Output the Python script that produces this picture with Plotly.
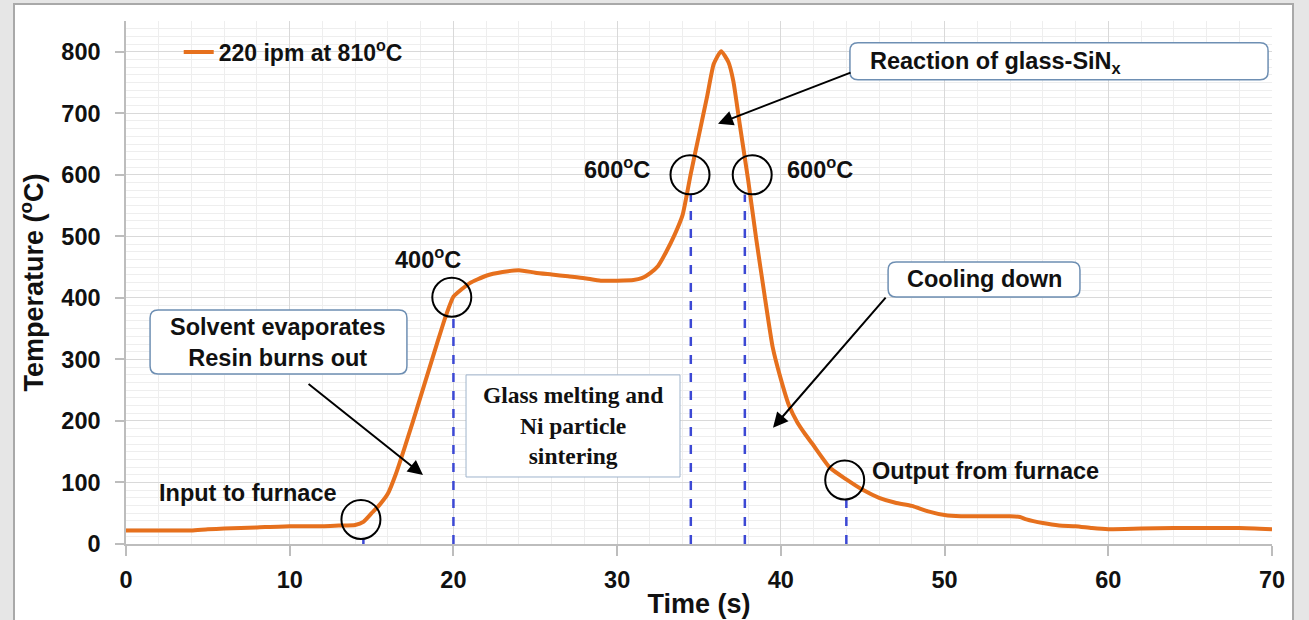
import plotly.graph_objects as go

# Furnace temperature profile, belt speed 220 ipm, peak set point 810 C
time_s = [0, 2, 4, 5, 6, 8, 10, 12, 13, 14, 14.5, 15, 15.5, 16, 16.5, 17, 17.5, 18,
          18.5, 19, 19.5, 20, 20.5, 21, 22, 23, 24, 25, 26, 27, 28, 29, 30, 31, 31.5,
          32, 32.5, 33, 33.5, 34, 34.5, 35, 35.5, 35.9, 36.35, 36.8, 37.1, 37.5, 38, 38.5,
          39, 39.5, 40, 40.5, 41, 41.5, 42, 43, 44, 45, 46, 47, 48, 49, 50, 51, 52,
          53, 54, 54.6, 55, 56, 57, 58, 59, 60, 62, 64, 66, 68, 70]
temp_c = [22, 22, 22, 24, 25, 27, 29, 29, 30, 31, 36, 50, 64, 82, 115, 155, 197, 240,
          283, 326, 368, 402, 414, 424, 436, 442, 445, 441, 438, 435, 432, 428, 428, 429, 432,
          440, 452, 475, 502, 535, 602, 665, 728, 780, 801, 783, 752, 680, 592, 495,
          405, 320, 268, 225, 198, 178, 160, 124, 105, 88, 75, 67, 62, 53, 47, 45, 45,
          45, 45, 44, 40, 34, 30, 29, 26, 24, 25, 26, 26, 26, 24]

series_name = "220 ipm at 810<sup>o</sup>C"

# Process checkpoints: circled points on the curve and dashed guides down to the axis
circle_t = [14.35, 19.9, 34.45, 38.25, 43.9]
circle_T = [40, 401, 600, 600, 104]
guide_t = [14.5, 20.0, 34.5, 37.8, 44.0]
guide_top = [8, 368, 568, 568, 72]

x_ticks = [0, 10, 20, 30, 40, 50, 60, 70]
y_ticks = [0, 100, 200, 300, 400, 500, 600, 700, 800]

ORANGE = "#E6701D"
BLUE = "#3C48D4"
BOX_EDGE = "#6E8FB3"
INK = "#111111"
SANS = "Liberation Sans, Arial"
SERIF = "Liberation Serif, Times New Roman"

W, H = 1309, 620
ML, MR, MT, MB = 126, 37, 21, 76
X_RANGE = [0, 70]
Y_RANGE = [0, 850]
px_x = (W - ML - MR) / (X_RANGE[1] - X_RANGE[0])
px_y = (H - MT - MB) / (Y_RANGE[1] - Y_RANGE[0])

fig = go.Figure()

for gt, top in zip(guide_t, guide_top):
    fig.add_trace(go.Scatter(x=[gt, gt], y=[0, top], mode="lines",
                             line=dict(color=BLUE, width=2.5, dash="dash"),
                             showlegend=False, hoverinfo="skip"))

fig.add_trace(go.Scatter(x=time_s, y=temp_c, mode="lines", name=series_name,
                         line=dict(color=ORANGE, width=4, shape="spline", smoothing=0.5)))

shapes = []


def to_paper_x(px):
    return (px - ML) / (W - ML - MR)


def to_paper_y(py):
    return (H - MB - py) / (H - MT - MB)


# page frame
shapes.append(dict(type="rect", xref="paper", yref="paper", layer="below",
                   x0=to_paper_x(14), x1=to_paper_x(1293),
                   y0=to_paper_y(640), y1=to_paper_y(4),
                   fillcolor="white", line=dict(color="#a9a9a9", width=2)))


def round_box(x0, x1, y0, y1, r_px=8, color=BOX_EDGE, width=1.5):
    rx, ry = r_px / px_x, r_px / px_y
    path = (f"M{x0 + rx},{y0} L{x1 - rx},{y0} Q{x1},{y0} {x1},{y0 + ry} "
            f"L{x1},{y1 - ry} Q{x1},{y1} {x1 - rx},{y1} L{x0 + rx},{y1} "
            f"Q{x0},{y1} {x0},{y1 - ry} L{x0},{y0 + ry} Q{x0},{y0} {x0 + rx},{y0} Z")
    return dict(type="path", xref="x", yref="y", path=path, layer="above",
                fillcolor="white", line=dict(color=color, width=width))


shapes.append(round_box(1.47, 17.16, 276.4, 380.5))
shapes.append(round_box(44.22, 69.76, 754.5, 814.6))
shapes.append(round_box(46.55, 58.27, 401.6, 458.5))
shapes.append(dict(type="rect", xref="x", yref="y", layer="above",
                   x0=20.77, x1=33.84, y0=108.9, y1=274.8,
                   fillcolor="white", line=dict(color="#9fb4cc", width=1)))

for ct, cT in zip(circle_t, circle_T):
    shapes.append(dict(type="circle", xref="x", yref="y", xsizemode="pixel",
                       ysizemode="pixel", xanchor=ct, yanchor=cT,
                       x0=-19.5, x1=19.5, y0=-19.5, y1=19.5,
                       line=dict(color="black", width=2)))

bold = dict(family=SANS, size=23.5, color=INK, weight="bold")

annotations = [
    dict(x=18.45, y=465, text="400<sup>o</sup>C", xanchor="center"),
    dict(x=32.13, y=611, text="600<sup>o</sup>C", xanchor="right"),
    dict(x=40.25, y=611, text="600<sup>o</sup>C", xanchor="left"),
    dict(x=1.9, y=83, text="Input to furnace", xanchor="left"),
    dict(x=45.45, y=119, text="Output from furnace", xanchor="left"),
    dict(x=9.3, y=328, text="Solvent evaporates<br>Resin burns out", xanchor="center"),
    dict(x=45.32, y=783, text="Reaction of glass-SiN<sub>x</sub>", xanchor="left"),
    dict(x=52.41, y=430, text="Cooling down", xanchor="center"),
]
annotations = [dict(a, xref="x", yref="y", yanchor="middle", showarrow=False,
                    font=bold) for a in annotations]
annotations.append(dict(x=27.3, y=192, xref="x", yref="y", showarrow=False,
                        text="Glass melting and<br>Ni particle<br>sintering",
                        font=dict(family=SERIF, size=23.5, color=INK, weight="bold"),
                        align="center"))

# callout arrows: (tip t, tip T, tail t, tail T)
arrows = [(18.14, 112, 11.06, 262), (36.16, 683, 44.35, 767), (39.52, 189, 46.48, 403)]
for tx, ty, sx, sy in arrows:
    annotations.append(dict(x=tx, y=ty, ax=sx, ay=sy, xref="x", yref="y",
                            axref="x", ayref="y", text="", showarrow=True,
                            arrowhead=2, arrowsize=1.5, arrowwidth=2,
                            arrowcolor="black"))

axis_grey = "#bdbdbd"
tick_font = dict(family=SANS, size=23.5, color=INK, weight="bold")
title_font = dict(family=SANS, size=27, color=INK, weight="bold")
fig.update_layout(
    width=W, height=H, autosize=False,
    margin=dict(l=ML, r=MR, t=MT, b=MB, autoexpand=False),
    paper_bgcolor="#e6e6e6", plot_bgcolor="white",
    shapes=shapes, annotations=annotations,
    showlegend=True,
    legend=dict(x=0.046, y=to_paper_y(52), xanchor="left", yanchor="middle",
                bgcolor="rgba(0,0,0,0)",
                font=dict(family=SANS, size=23, color=INK, weight="bold")),
    xaxis=dict(range=X_RANGE, tickvals=x_ticks, showgrid=True, gridcolor="#d9d9d9",
               gridwidth=1, zeroline=False, showline=True, linecolor=axis_grey,
               linewidth=1.5, ticks="outside", ticklen=10, tickwidth=1.5,
               tickcolor=axis_grey, ticklabelstandoff=4, automargin=False,
               tickfont=tick_font,
               minor=dict(dtick=2, showgrid=True, gridcolor="#eeeeee", ticks=""),
               title=dict(text="Time (s)", standoff=2, font=title_font)),
    yaxis=dict(range=Y_RANGE, tickvals=y_ticks, showgrid=True, gridcolor="#d9d9d9",
               gridwidth=1, zeroline=False, showline=True, linecolor=axis_grey,
               linewidth=1.5, ticks="outside", ticklen=9, tickwidth=1.5,
               tickcolor=axis_grey, ticklabelstandoff=10, automargin=False,
               tickfont=tick_font,
               minor=dict(dtick=12.5, showgrid=True, gridcolor="#eeeeee", ticks=""),
               title=dict(text="Temperature (<sup>o</sup>C)", standoff=10,
                          font=title_font)),
)

fig.write_html("out.html")
